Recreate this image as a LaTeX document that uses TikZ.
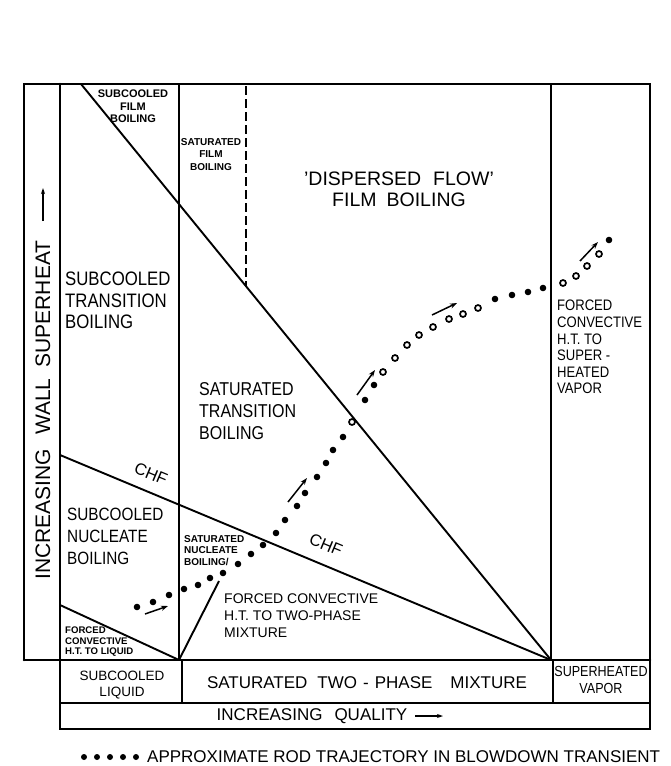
\documentclass[tikz,border=0pt]{standalone}
\usepackage{fontspec}
\setmainfont{Liberation Sans}
\newfontfamily\condf[FakeStretch=0.86]{Liberation Sans}
\usetikzlibrary{arrows.meta}
\newcommand{\setfs}[2]{\fontsize{#1}{#2}\selectfont}
\tikzset{
  frame/.style={line width=2.6pt, line cap=round},
  bound/.style={line width=2pt},
  regline/.style={line width=1.9pt},
  dashline/.style={line width=1.7pt, dash pattern=on 9pt off 4pt},
  lblw/.style={inner sep=0pt, align=left, anchor=north west, text=black},
  lblc/.style={inner sep=0pt, align=center, anchor=north, text=black},
  chflbl/.style={inner sep=0pt, rotate=-22.7, font=\setfs{16.5}{16.5}},
  trajarrow/.style={line width=1.5pt, -{Stealth[length=7pt,width=5pt]}},
  axarrow/.style={line width=1.4pt, -{Stealth[length=6pt,width=4pt]}},
  hollowdot/.style={draw=black, line width=1.7pt, fill=white},
}
\begin{document}
\begin{tikzpicture}[x=1pt,y=-1pt]
\useasboundingbox (0,0) rectangle (670,766);
\fill[white] (0,0) rectangle (670,766);

% key points
\coordinate (oTL) at (24,84);
\coordinate (oTR) at (650,84);
\coordinate (oBL) at (24,660);
\coordinate (oBR) at (650,660);
\coordinate (iT) at (60,84);
\coordinate (iB) at (60,729);
\coordinate (rB) at (650,729);
\coordinate (r1L) at (60,703);
\coordinate (r1R) at (650,703);
\coordinate (sT) at (179,84);
\coordinate (sB) at (179,660);
\coordinate (vT) at (551,84);
\coordinate (vB) at (551,660);
\coordinate (lq1) at (182,660);
\coordinate (lq2) at (182,703);
\coordinate (vp1) at (553,660);
\coordinate (vp2) at (553,703);
\coordinate (dT) at (246,86);
\coordinate (dB) at (246,286);
\coordinate (fT) at (81,84);
\coordinate (chfL) at (60,455);
\coordinate (fcL) at (60,605);
\coordinate (snT) at (219,581);

% frame
\draw[frame] (oBL) -- (oTL) -- (oTR) -- (rB) -- (iB) -- (iT);
\draw[frame] (oBL) -- (oBR);
\draw[bound] (r1L) -- (r1R);
\draw[bound] (sT) -- (sB);
\draw[bound] (vT) -- (vB);
\draw[bound] (lq1) -- (lq2);
\draw[bound] (vp1) -- (vp2);
\draw[dashline] (dT) -- (dB);

% regime boundaries
\draw[regline] (fT) -- (vB);
\draw[regline] (chfL) -- (vB);
\draw[regline] (fcL) -- (sB);
\draw[regline] (sB) -- (snT);

% CHF labels
\node[chflbl] (chf1) at (151,474) {CHF};
\node[chflbl] (chf2) at (326,545) {CHF};

% region labels
\node[lblc, font=\setfs{11}{12.5}\bfseries] (scfb) at (133,90) {SUBCOOLED\\FILM\\BOILING};
\node[lblc, font=\setfs{10}{12.5}\bfseries] (satfb) at (211,138) {SATURATED\\FILM\\BOILING};
\node[lblc, font=\setfs{19.5}{20.5}] (dfb) at (399,172) {'DISPERSED\hspace{12pt}FLOW'\\FILM\hspace{10pt}BOILING};
\node[lblw, font=\condf\setfs{19.5}{21.5}] (sctb) at (65,272) {SUBCOOLED\\TRANSITION\\BOILING};
\node[lblw, font=\condf\setfs{18.6}{22}] (sattb) at (199,382) {SATURATED\\TRANSITION\\BOILING};
\node[lblw, font=\condf\setfs{17.8}{22}] (scnb) at (67,508) {SUBCOOLED\\NUCLEATE\\BOILING};
\node[lblw, font=\setfs{10}{11.5}\bfseries] (satnb) at (184,535) {SATURATED\\NUCLEATE\\BOILING/};
\node[lblw, font=\setfs{14}{17}] (fctp) at (224,594) {FORCED CONVECTIVE\\H.T. TO TWO-PHASE\\MIXTURE};
\node[lblw, font=\setfs{9.6}{10.2}\bfseries] (fcl) at (65,627) {FORCED\\CONVECTIVE\\H.T. TO LIQUID};
\node[lblw, font=\condf\setfs{15.2}{16.6}] (fcsv) at (557,300) {FORCED\\CONVECTIVE\\H.T. TO\\SUPER -\\HEATED\\VAPOR};

% axis label
\node[inner sep=0pt, rotate=90, font=\setfs{21}{21}] (yax) at (43,410) {INCREASING\hspace{14pt}WALL\hspace{11pt}SUPERHEAT};
\coordinate (yaA) at (43,221);
\coordinate (yaB) at (43,188);
\draw[axarrow] (yaA) -- (yaB);

% bottom rows
\node[inner sep=0pt, align=center, font=\setfs{13.5}{16}] (scl) at (122,685) {SUBCOOLED\\LIQUID};
\node[inner sep=0pt, font=\setfs{17}{17}] (stpm) at (367,683) {SATURATED\hspace{10pt}TWO\hspace{6pt}-\hspace{6pt}PHASE\hspace{18pt}MIXTURE};
\node[inner sep=0pt, align=center, font=\condf\setfs{14.6}{17}] (shv) at (601,680) {SUPERHEATED\\VAPOR};
\node[inner sep=0pt, font=\setfs{17}{17}] (iq) at (312,716) {INCREASING\hspace{12pt}QUALITY};
\coordinate (qaA) at (415,716);
\coordinate (qaB) at (443,716);
\draw[axarrow] (qaA) -- (qaB);

% trajectory
\foreach \px/\py in {137/607,153/602,169/595,184/589,198/585,210/578,223/573,238/564,251/554,263/545,276/533,285/520,297/506,305/493,317/477,326/463,333/450,343/437,365/400,374/385,495/299,512/295,528/292,543/288,609/240}
  \fill (\px,\py) circle (3.3);
\foreach \px/\py in {352/422,383/372,395/358,407/345,419/335,433/327,449/319,463/314,478/308,563/283,576/276,587/266,599/254}
  \draw[hollowdot] (\px,\py) circle (3);

\coordinate (a1s) at (145,614); \coordinate (a1e) at (168,606);
\coordinate (a2s) at (288,502); \coordinate (a2e) at (307,478);
\coordinate (a3s) at (357,395); \coordinate (a3e) at (375,370);
\coordinate (a4s) at (432,315); \coordinate (a4e) at (457,303);
\coordinate (a5s) at (580,261); \coordinate (a5e) at (598,242);
\draw[trajarrow] (a1s) -- (a1e);
\draw[trajarrow] (a2s) -- (a2e);
\draw[trajarrow] (a3s) -- (a3e);
\draw[trajarrow] (a4s) -- (a4e);
\draw[trajarrow] (a5s) -- (a5e);

% legend
\foreach \px in {84,97,110,123,136}
  \fill (\px,757) circle (3);
\node[inner sep=0pt, anchor=west, font=\setfs{17}{17}] (leg) at (147,757) {APPROXIMATE ROD TRAJECTORY IN BLOWDOWN TRANSIENT};
\end{tikzpicture}
\end{document}
